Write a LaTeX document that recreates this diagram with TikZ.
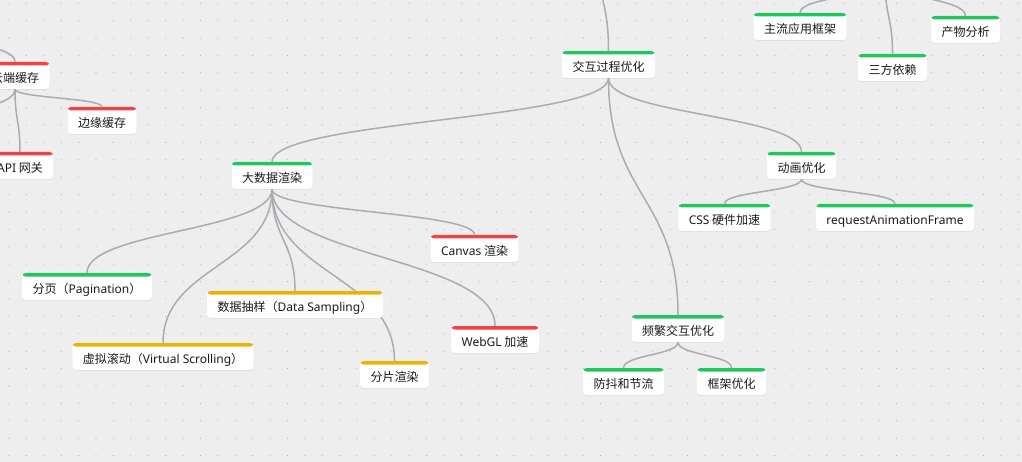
\documentclass[tikz,border=0pt]{standalone}
\usepackage{fontspec}
\setmainfont{Noto Sans CJK SC}
\newfontfamily\latin{Noto Sans}
\usetikzlibrary{calc, shadows, backgrounds}
\definecolor{paper}{HTML}{EEEEEE}
\definecolor{dotgray}{HTML}{ADADAD}
\definecolor{linkgray}{HTML}{ABABB2}
\definecolor{okgreen}{HTML}{22C55E}
\definecolor{warnred}{HTML}{EF4444}
\definecolor{midyellow}{HTML}{EAB308}
\definecolor{ink}{HTML}{1A1A1A}

\tikzset{
  card/.style={rectangle, rounded corners=3.5pt, fill=white, text=ink,
    font=\fontsize{12pt}{14pt}\selectfont,
    minimum height=27pt, inner xsep=10.5pt, inner ysep=0pt,
    text height=14.5pt, text depth=0.4pt,
    drop shadow={shadow xshift=0pt, shadow yshift=-1pt, opacity=0.12},
    path picture={\fill[#1] ([yshift=2pt]path picture bounding box.north west)
      rectangle ([yshift=-3.5pt]path picture bounding box.north east);}},
  link/.style={draw=linkgray, line width=1.5pt,
    to path={let \p1=(\tikztostart), \p2=(\tikztotarget) in
      .. controls (\x1,{0.5*(\y1+\y2)}) and (\x2,{0.5*(\y1+\y2)}) .. (\tikztotarget)}}
}

\begin{document}
\begin{tikzpicture}[x=1pt, y=-1pt]
  \useasboundingbox (0,0) rectangle (1022,462);
  \clip (0,0) rectangle (1022,462);

  % cache branch (cut at the left edge)
  \node[card=warnred] (cloud) at (15,75.5) {云端缓存};
  \node[card=warnred] (edgecache) at (102,120.5) {边缘缓存};
  \node[card=warnred] (gateway) at (20,165.5) {{\latin API} 网关};

  % build branch (cut at the top)
  \node[card=okgreen] (framework) at (800,26.5) {主流应用框架};
  \node[card=okgreen] (thirdparty) at (892.5,67.5) {三方依赖};
  \node[card=okgreen] (artifact) at (965.5,29.5) {产物分析};

  % interaction branch
  \node[card=okgreen] (interact) at (608.5,64.5) {交互过程优化};
  \node[card=okgreen] (bigdata) at (272,175.5) {大数据渲染};
  \node[card=okgreen] (anim) at (801.5,165.5) {动画优化};
  \node[card=okgreen] (frequent) at (678,328.5) {频繁交互优化};

  \node[card=okgreen] (paging) at (87,286.5) {分页（{\latin Pagination}）};
  \node[card=midyellow] (virtual) at (163,356.5) {虚拟滚动（{\latin Virtual Scrolling}）};
  \node[card=midyellow] (sampling) at (295,304.5) {数据抽样（{\latin Data Sampling}）};
  \node[card=midyellow] (slicing) at (394.5,374.5) {分片渲染};
  \node[card=warnred] (canvas) at (474.5,248.5) {{\latin Canvas} 渲染};
  \node[card=warnred] (webgl) at (495,339.5) {{\latin WebGL} 加速};

  \node[card=okgreen] (cssgpu) at (724.5,217.5) {{\latin CSS} 硬件加速};
  \node[card=okgreen] (raf) at (895,217.5) {\latin requestAnimationFrame};

  \node[card=okgreen] (debounce) at (623.5,381.5) {防抖和节流};
  \node[card=okgreen] (fwopt) at (731.5,381.5) {框架优化};

  % parents and siblings outside the frame
  \coordinate (rootA) at (-40,30);
  \coordinate (leftkid) at (-60,130);
  \coordinate (rootB) at (595,-60);
  \coordinate (rootC) at (885,-20);

  \begin{scope}[on background layer]
    \clip (0,0) rectangle (1022,462);
    \fill[paper] (0,0) rectangle (1022,462);
    \foreach \i in {0,...,58}
      \foreach \j in {0,...,26}
        \fill[dotgray] ({9+17.4*\i},{3.2+17.4*\j}) circle (0.55pt);

    \draw[link] (rootA) to (cloud.north);
    \foreach \k in {edgecache,gateway}
      \draw[link] (cloud.south) to (\k.north);
    \draw[link] (cloud.south) to (leftkid);

    \draw[link] (rootB) to (interact.north);
    \foreach \k in {framework,thirdparty,artifact}
      \draw[link] (rootC) to (\k.north);

    \foreach \k in {bigdata,frequent,anim}
      \draw[link] (interact.south) to (\k.north);
    \foreach \k in {paging,virtual,sampling,slicing,canvas,webgl}
      \draw[link] (bigdata.south) to (\k.north);
    \foreach \k in {cssgpu,raf}
      \draw[link] (anim.south) to (\k.north);
    \foreach \k in {debounce,fwopt}
      \draw[link] (frequent.south) to (\k.north);
  \end{scope}
\end{tikzpicture}
\end{document}
